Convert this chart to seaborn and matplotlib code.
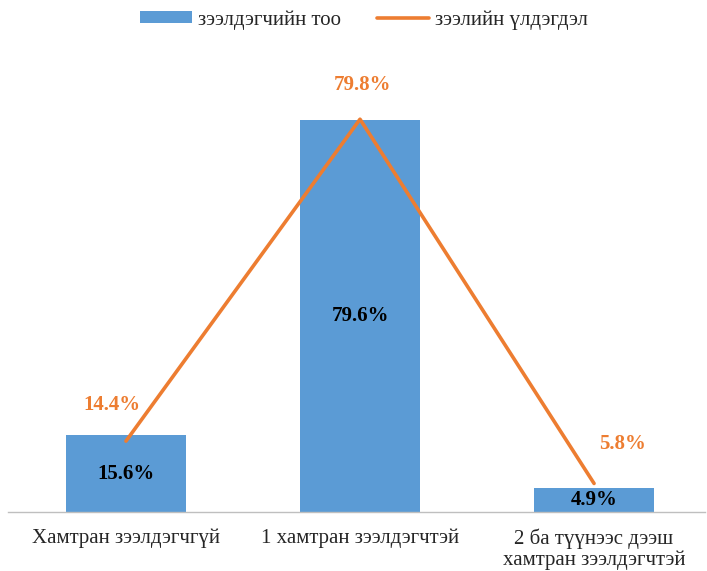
import numpy as np
import pandas as pd
import matplotlib
matplotlib.use("Agg")
import matplotlib.pyplot as plt
import seaborn as sns
from matplotlib.patches import Patch
from matplotlib.lines import Line2D

categories = ["Хамтран зээлдэгчгүй", "1 хамтран зээлдэгчтэй", "2 ба түүнээс дээш\nхамтран зээлдэгчтэй"]
borrowers = [15.6, 79.6, 4.9]       # зээлдэгчийн тоо
balance = [14.4, 79.8, 5.8]         # зээлийн үлдэгдэл
series_names = ["зээлдэгчийн тоо", "зээлийн үлдэгдэл"]

bar_color = "#5B9BD5"
line_color = "#ED7D31"

sns.set_style("white")
plt.rcParams['font.family'] = ['Liberation Serif', 'DejaVu Serif']

fig = plt.figure(figsize=(7.07, 5.71), dpi=100)
ax = fig.add_axes([8/707, (571-512)/571, (705-8)/707, (512-69)/571])

df = pd.DataFrame({"cat": categories, "val": borrowers})
sns.barplot(data=df, x="cat", y="val", color=bar_color, width=0.51,
            saturation=1, ax=ax, edgecolor="none")
sns.lineplot(x=np.arange(len(categories)), y=balance, color=line_color,
             linewidth=2.6, ax=ax)

ax.set_xlim(-0.504, 2.474)
ax.set_ylim(0, 90)
ax.set_xlabel("")
ax.set_ylabel("")
ax.set_yticks([])
for s in ["top", "right", "left"]:
    ax.spines[s].set_visible(False)
ax.spines["bottom"].set_color("#BFBFBF")
ax.spines["bottom"].set_linewidth(1)
ax.tick_params(axis="x", length=0, pad=12, labelsize=15)
for lbl in ax.get_xticklabels():
    lbl.set_linespacing(1.1)

# bar labels
for i, v in enumerate(borrowers):
    ax.text(i, v / 2, f"{v}%", ha="center", va="center",
            fontsize=15, fontweight="bold", color="black")

# line labels
offsets = [(-0.06, 7.3), (0.01, 7.0), (0.12, 8.0)]
for i, v in enumerate(balance):
    dx, dy = offsets[i]
    ax.text(i + dx, v + dy, f"{v}%", ha="center", va="center",
            fontsize=15, fontweight="bold", color=line_color)

handles = [Patch(facecolor=bar_color, edgecolor="none"),
           Line2D([0], [0], color=line_color, linewidth=2.6)]
fig.legend(handles, series_names, loc="center", bbox_to_anchor=(364/707, 1 - 20/571),
           ncol=2, frameon=False, fontsize=15, handlelength=2.5, handleheight=0.5,
           columnspacing=1.7, handletextpad=0.3)

fig.savefig("out.png", dpi=100)
